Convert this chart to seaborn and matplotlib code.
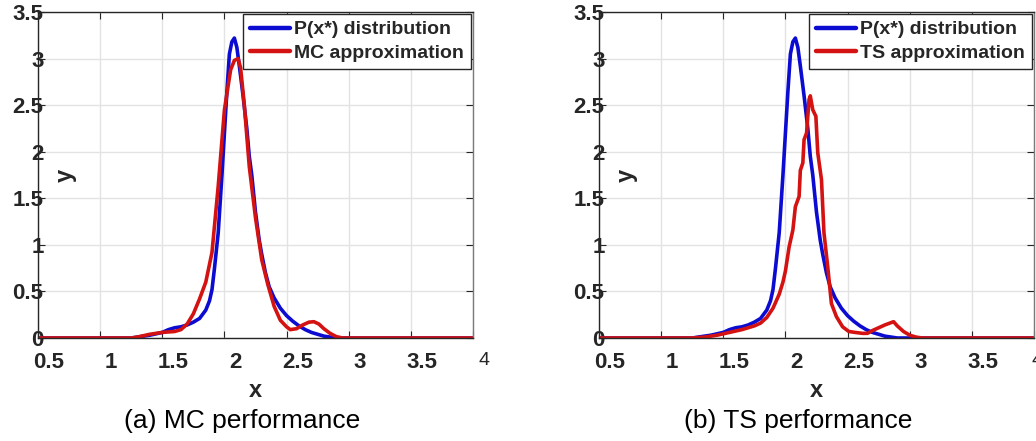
import matplotlib
matplotlib.use("Agg")
import matplotlib.pyplot as plt
import matplotlib.transforms as mtransforms
import seaborn as sns

# Target density P(x*)
x_target = [0.5, 1.25, 1.3, 1.4, 1.5, 1.55, 1.6, 1.65, 1.7, 1.75, 1.8, 1.85, 1.88, 1.9, 1.92,
            1.95, 1.98, 2.0, 2.02, 2.04, 2.06, 2.08, 2.1, 2.12, 2.15, 2.18, 2.2, 2.22, 2.25, 2.28,
            2.3, 2.33, 2.36, 2.4, 2.45, 2.5, 2.55, 2.6, 2.65, 2.7, 2.75, 2.8, 2.85, 2.9, 4.0]
y_target = [0, 0, 0.01, 0.03, 0.06, 0.09, 0.11, 0.12, 0.14, 0.17, 0.21, 0.3, 0.4, 0.52, 0.75,
            1.13, 1.75, 2.2, 2.65, 3.05, 3.18, 3.22, 3.12, 2.92, 2.6, 2.25, 1.95, 1.75, 1.35, 1.05,
            0.9, 0.7, 0.55, 0.43, 0.32, 0.24, 0.18, 0.13, 0.09, 0.06, 0.04, 0.02, 0.01, 0, 0]

# Monte Carlo estimate
x_mc = [0.5, 1.25, 1.3, 1.4, 1.5, 1.6, 1.65, 1.7, 1.75, 1.8, 1.85, 1.9, 1.95, 2.0, 2.05,
        2.08, 2.11, 2.13, 2.16, 2.2, 2.25, 2.3, 2.35, 2.4, 2.45, 2.5, 2.53, 2.58, 2.63, 2.68,
        2.72, 2.76, 2.8, 2.85, 2.9, 2.95, 4.0]
y_mc = [0, 0, 0.01, 0.04, 0.06, 0.07, 0.09, 0.15, 0.26, 0.42, 0.6, 0.92, 1.63, 2.45, 2.88,
        2.98, 3.0, 2.9, 2.5, 1.84, 1.29, 0.84, 0.57, 0.34, 0.19, 0.12, 0.09, 0.1, 0.14, 0.17,
        0.175, 0.15, 0.1, 0.05, 0.015, 0, 0]

# Thompson sampling estimate
x_ts = [0.5, 1.25, 1.35, 1.45, 1.55, 1.65, 1.75, 1.8, 1.85, 1.9, 1.95, 1.98, 2.0, 2.03, 2.06,
        2.08, 2.11, 2.12, 2.14, 2.15, 2.17, 2.19, 2.2, 2.22, 2.245, 2.26, 2.29, 2.31, 2.34, 2.37,
        2.41, 2.46, 2.51, 2.56, 2.62, 2.66, 2.7, 2.75, 2.8, 2.84, 2.87, 2.9, 2.95, 3.0, 3.05,
        3.1, 4.0]
y_ts = [0, 0, 0.01, 0.03, 0.06, 0.09, 0.13, 0.16, 0.22, 0.32, 0.47, 0.6, 0.72, 0.98, 1.16,
        1.41, 1.52, 1.8, 1.88, 2.13, 2.2, 2.56, 2.6, 2.45, 2.38, 1.99, 1.7, 1.13, 0.77, 0.37,
        0.23, 0.12, 0.07, 0.06, 0.05, 0.05, 0.08, 0.11, 0.14, 0.16, 0.175, 0.13, 0.07, 0.03, 0.01,
        0, 0]

x_ticks = [0.5, 1, 1.5, 2, 2.5, 3, 3.5, 4]
x_tick_labels = ["0.5", "1", "1.5", "2", "2.5", "3", "3.5", "4"]
y_ticks = [0, 0.5, 1, 1.5, 2, 2.5, 3, 3.5]
y_tick_labels = ["0", "0.5", "1", "1.5", "2", "2.5", "3", "3.5"]

target_label = "P(x*) distribution"
panel_labels = ["MC approximation", "TS approximation"]
captions = ["(a) MC performance", "(b) TS performance"]

BLUE = "#0b0bd2"
RED = "#d41212"
DARK = "#262626"

sns.set_theme(style="whitegrid")
plt.rcParams["font.family"] = ["Liberation Sans", "DejaVu Sans"]

fig = plt.figure(figsize=(10.36, 4.41), dpi=100)
W, H = 1036.0, 441.0
axes_px = [(38, 12, 473, 338), (599, 12, 1034, 338)]
caption_px = [242, 798]
last_label_shift = [11, 3]

estimates = [(x_mc, y_mc), (x_ts, y_ts)]

for i, (l, t, r, b) in enumerate(axes_px):
    ax = fig.add_axes([l / W, 1 - b / H, (r - l) / W, (b - t) / H])
    ax.set_facecolor("white")
    xe, ye = estimates[i]
    sns.lineplot(x=x_target, y=y_target, ax=ax, color=BLUE, linewidth=2.6,
                 label=target_label, sort=False, estimator=None)
    sns.lineplot(x=xe, y=ye, ax=ax, color=RED, linewidth=2.6,
                 label=panel_labels[i], sort=False, estimator=None)

    ax.set_xlim(0.5, 4)
    ax.set_ylim(0, 3.5)
    ax.set_xticks(x_ticks)
    ax.set_xticklabels(x_tick_labels, fontsize=16, fontweight="bold", color=DARK)
    ax.set_yticks(y_ticks)
    ax.set_yticklabels(y_tick_labels, fontsize=16, fontweight="bold", color=DARK)
    # last x label is set in a lighter, smaller face
    last = ax.get_xticklabels()[-1]
    last.set_fontweight("normal")
    last.set_fontsize(14)

    ax.grid(True, color="#e3e3e3", linewidth=1.0)
    for side, sp in ax.spines.items():
        sp.set_visible(True)
        sp.set_color(DARK if side in ("left", "bottom", "top") else "#7a7a7a")
        sp.set_linewidth(1.0)
    ax.tick_params(axis="both", direction="in", length=5, width=0.8, color=DARK,
                   top=True, right=True, bottom=True, left=True)
    ax.tick_params(axis="x", pad=10)
    ax.tick_params(axis="y", pad=-4)

    labels = ax.get_xticklabels()
    for k, lab in enumerate(labels):
        dx = last_label_shift[i] if k == len(labels) - 1 else 11
        shift = mtransforms.ScaledTranslation(dx / 100, 0, fig.dpi_scale_trans)
        lab.set_transform(lab.get_transform() + shift)

    ax.set_xlabel("x", fontsize=17, fontweight="bold", color=DARK)
    ax.xaxis.set_label_coords(0.5, -0.125)
    ax.set_ylabel("y", fontsize=17, fontweight="bold", color=DARK)
    ax.yaxis.set_label_coords(0.09, 0.5)

    leg = ax.legend(loc="upper right", frameon=True, fancybox=False, framealpha=1,
                    edgecolor=DARK, borderaxespad=0.1, handlelength=2.1,
                    handletextpad=0.2, borderpad=0.35, labelspacing=0.3,
                    prop={"size": 14, "weight": "bold"})
    leg.get_frame().set_linewidth(1.0)
    for line in leg.get_lines():
        line.set_linewidth(3.2)

    fig.text(caption_px[i] / W, 1 - 428 / H, captions[i], ha="center", va="baseline",
             fontsize=19, color="black")

fig.savefig("out.png", dpi=100, facecolor="white")
